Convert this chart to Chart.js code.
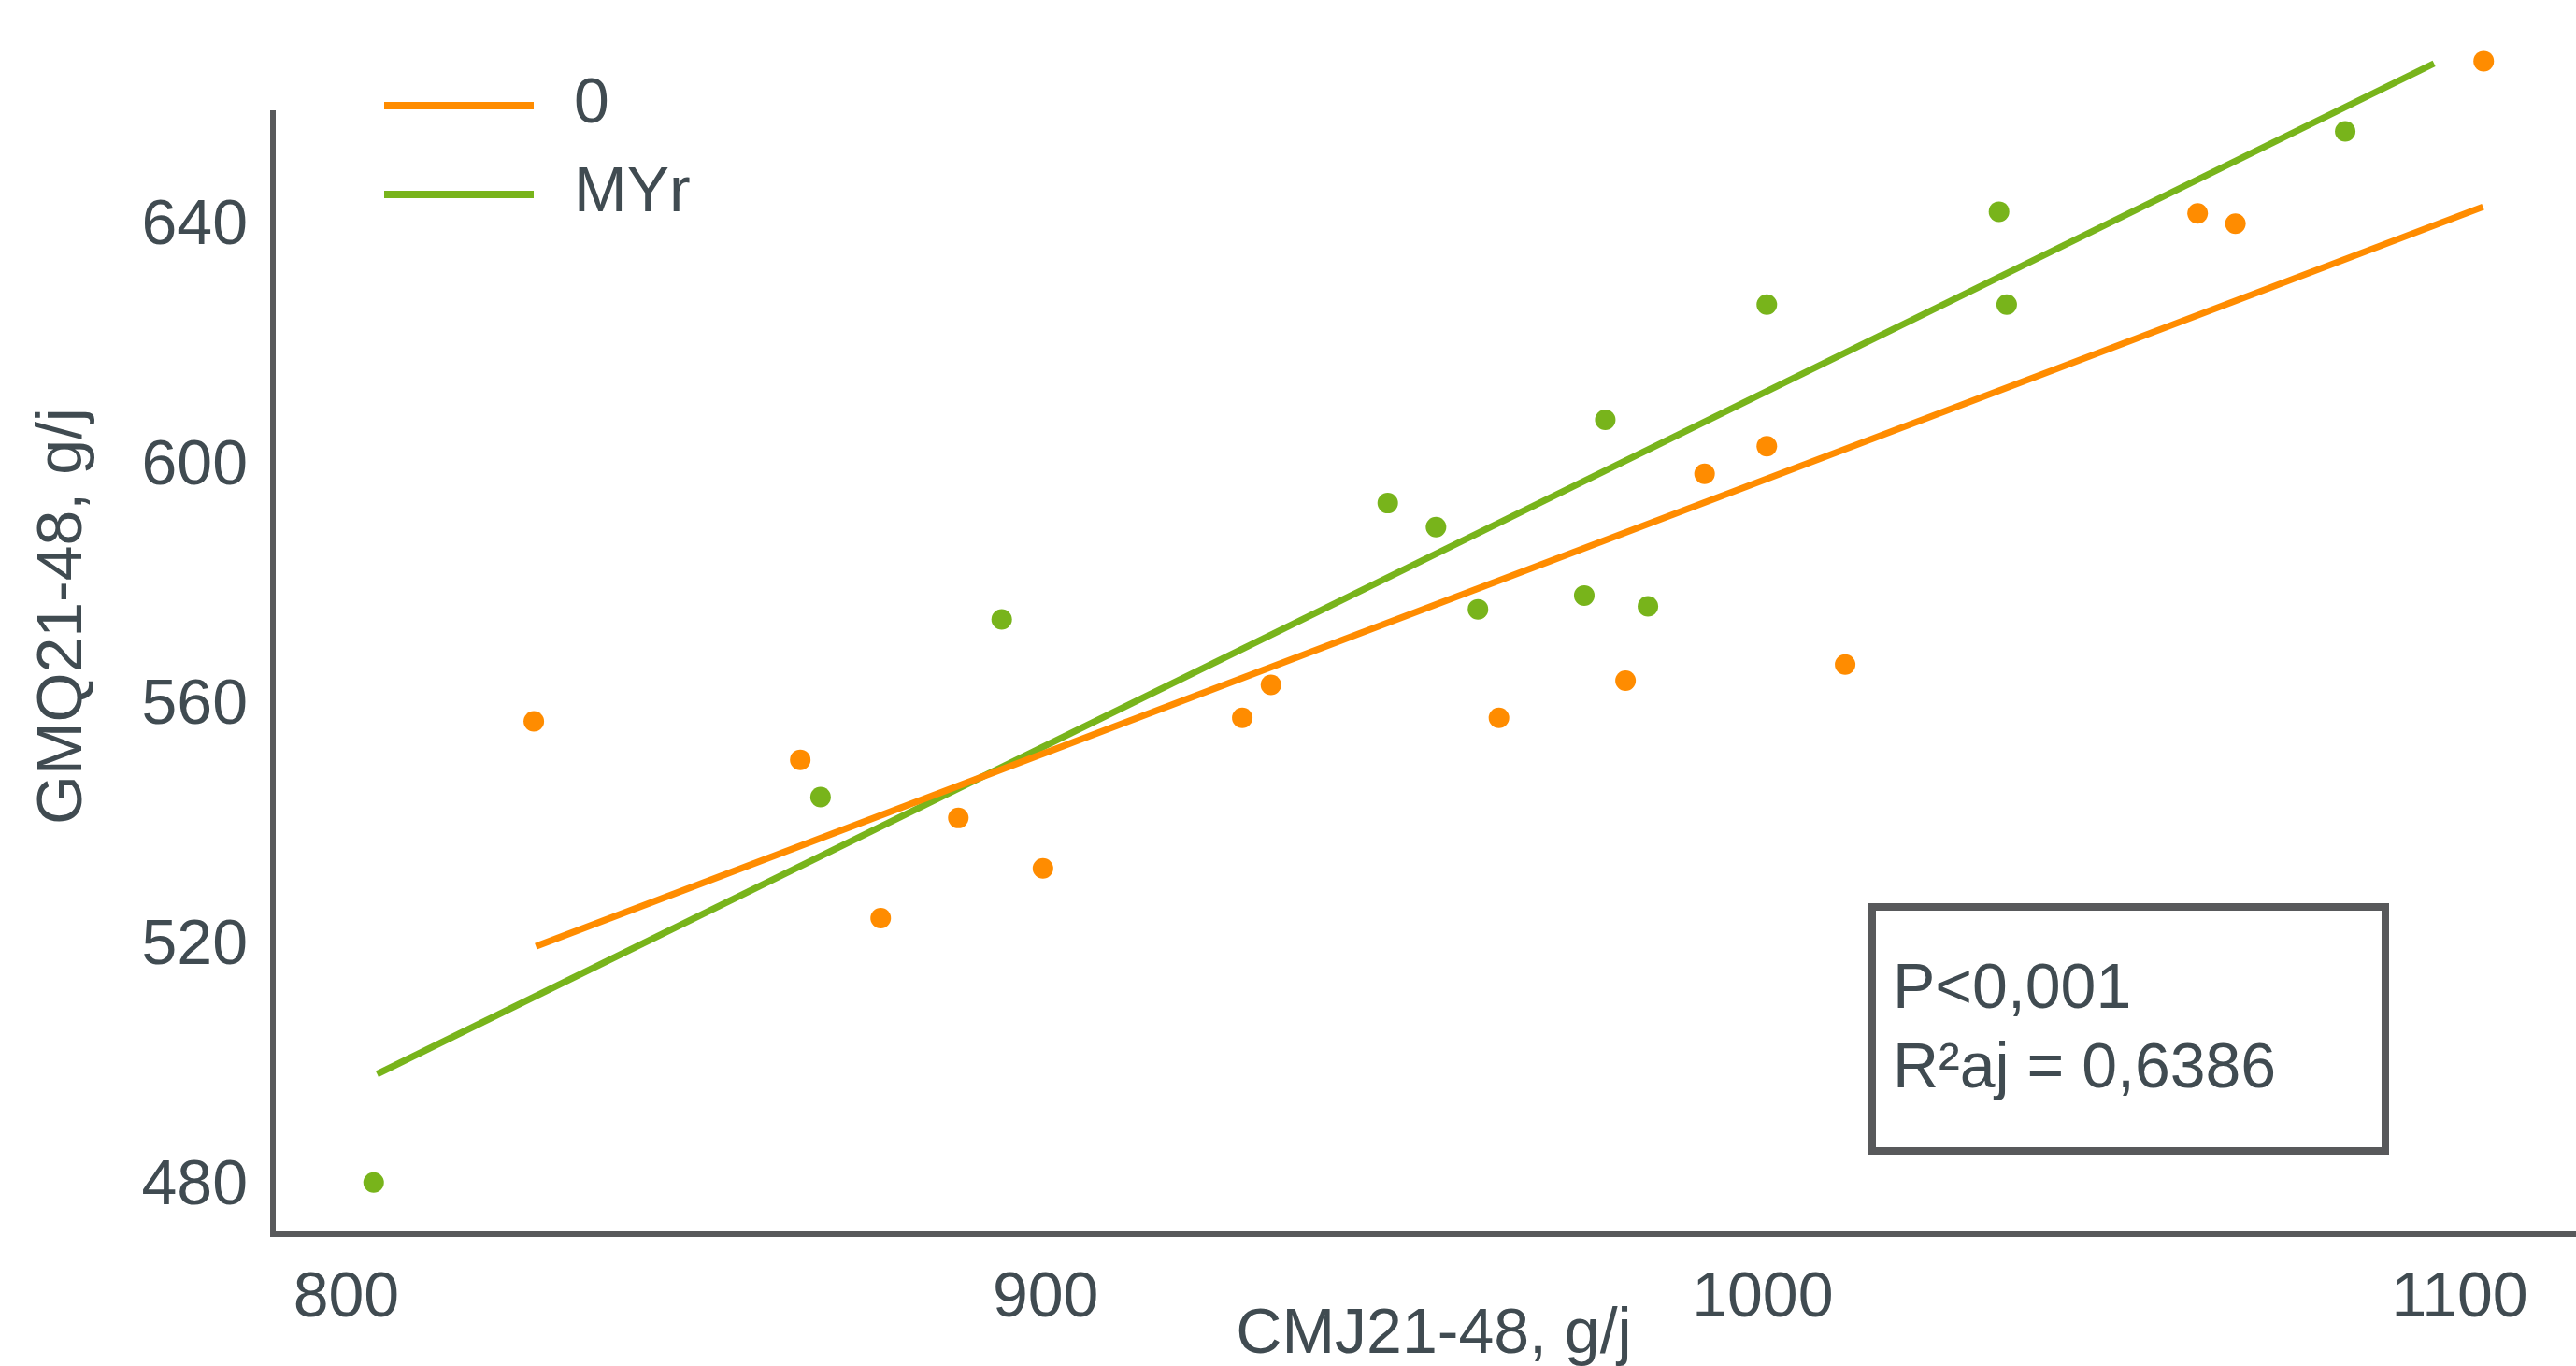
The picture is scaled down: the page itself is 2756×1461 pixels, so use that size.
<!DOCTYPE html>
<html>
<head>
<meta charset="utf-8">
<script src="https://cdn.jsdelivr.net/npm/chart.js@4.4.1/dist/chart.umd.min.js"></script>
<style>
  html, body { margin: 0; padding: 0; background: #fff; overflow: hidden; width: 2756px; height: 1461px; }
  #wrap { width: 2756px; height: 1461px; overflow: hidden; }
  #chart { display: block; }
</style>
</head>
<body>
<div id="wrap"><canvas id="chart" width="2756" height="1461"></canvas></div>
<script>
// groupes et valeurs
var groups = ['0', 'MYr'];
var cmj0 = [834.4, 872.5, 884.0, 895.1, 907.2, 935.7, 939.8, 972.4, 990.5, 1001.8, 1010.7, 1021.9, 1072.3, 1077.7, 1113.2];
var gmq0 = [556.9, 550.5, 524.1, 540.8, 532.4, 557.5, 563.0, 557.5, 563.7, 598.2, 602.8, 566.4, 641.6, 639.9, 667.0];
var cmjMYr = [811.5, 875.4, 901.3, 956.5, 963.4, 969.4, 984.6, 987.6, 993.7, 1010.7, 1043.9, 1045.0, 1093.4];
var gmqMYr = [480.0, 544.3, 573.9, 593.3, 589.3, 575.6, 577.9, 607.2, 576.1, 626.4, 641.9, 626.4, 655.3];
// droites de regression (extremites)
var fit0X = [834.7, 1113.1];
var fit0Y = [519.4, 642.7];
var fitMYrX = [812.0, 1106.1];
var fitMYrY = [498.1, 666.6];
// axes
var xTicks = [800, 900, 1000, 1100];
var yTicks = [480, 520, 560, 600, 640];
var xTitle = 'CMJ21-48, g/j';
var yTitle = 'GMQ21-48, g/j';
var statsLines = ['P<0,001', 'R²aj = 0,6386'];

var yAxisTop = 658.8; // haut du trait de l'axe y (des points depassent au-dessus)

var orange = '#ff8c00';
var green = '#78b41b';
var ink = '#404b51';
var axisGrey = '#58595b';
var fam = '"Liberation Sans", Arial, sans-serif';

function pts(xs, ys) {
  return xs.map(function (x, i) { return {x: x, y: ys[i]}; });
}

// trait de l'axe y, arrete a yAxisTop comme sur l'original
var yAxisLine = {
  id: 'yAxisLine',
  beforeDatasetsDraw: function (chart) {
    var ctx = chart.ctx;
    var y = chart.scales.y;
    var x = chart.chartArea.left;
    ctx.save();
    ctx.strokeStyle = axisGrey;
    ctx.lineWidth = 6;
    ctx.beginPath();
    ctx.moveTo(x, y.getPixelForValue(yAxisTop));
    ctx.lineTo(x, chart.chartArea.bottom + 3);
    ctx.stroke();
    ctx.restore();
  }
};

// legende, titres et encadre dessines par dessus le graphe
var overlay = {
  id: 'overlay',
  afterDraw: function (chart) {
    var ctx = chart.ctx;
    ctx.save();
    ctx.font = '68px ' + fam;
    ctx.fillStyle = ink;
    ctx.textBaseline = 'middle';

    var legendColors = [orange, green];
    var legendY = [113, 208];
    groups.forEach(function (g, i) {
      ctx.strokeStyle = legendColors[i];
      ctx.lineWidth = 8;
      ctx.beginPath();
      ctx.moveTo(411, legendY[i]);
      ctx.lineTo(571, legendY[i]);
      ctx.stroke();
      ctx.fillText(g, 614, legendY[i] - 1);
    });

    // titre axe y
    ctx.save();
    ctx.translate(68, 659);
    ctx.rotate(-Math.PI / 2);
    ctx.textAlign = 'center';
    ctx.fillText(yTitle, 0, 0);
    ctx.restore();

    // titre axe x
    ctx.textAlign = 'center';
    ctx.fillText(xTitle, 1534, 1428);

    // encadre stats
    ctx.strokeStyle = axisGrey;
    ctx.lineWidth = 8;
    ctx.strokeRect(2003, 970, 549, 261);
    ctx.textAlign = 'left';
    ctx.fillText(statsLines[0], 2025, 1059);
    ctx.fillText(statsLines[1], 2025, 1144);
    ctx.restore();
  }
};

var ctx = document.getElementById('chart').getContext('2d');
var chart = new Chart(ctx, {
  type: 'scatter',
  data: {
    datasets: [
      {
        label: groups[0] + ' fit',
        data: pts(fit0X, fit0Y),
        showLine: true,
        borderColor: orange,
        borderWidth: 7,
        pointRadius: 0,
        clip: false
      },
      {
        label: groups[1] + ' fit',
        data: pts(fitMYrX, fitMYrY),
        showLine: true,
        borderColor: green,
        borderWidth: 7,
        pointRadius: 0,
        clip: false
      },
      {
        label: groups[0],
        data: pts(cmj0, gmq0),
        backgroundColor: orange,
        borderWidth: 0,
        pointRadius: 11,
        clip: false
      },
      {
        label: groups[1],
        data: pts(cmjMYr, gmqMYr),
        backgroundColor: green,
        borderWidth: 0,
        pointRadius: 11,
        clip: false
      }
    ]
  },
  options: {
    responsive: false,
    devicePixelRatio: 1,
    animation: false,
    events: [],
    layout: { autoPadding: false, padding: { top: 40, left: 0, right: 0, bottom: 0 } },
    plugins: {
      legend: { display: false },
      tooltip: { enabled: false },
      title: { display: false }
    },
    scales: {
      x: {
        type: 'linear',
        min: 797.1,
        max: 1126.4,
        grid: { display: false, drawTicks: false },
        border: { display: true, color: axisGrey, width: 6 },
        afterBuildTicks: function (scale) {
          scale.ticks = xTicks.map(function (v) { return {value: v}; });
        },
        afterFit: function (scale) {
          scale.height = 141;
          scale.paddingLeft = 0;
          scale.paddingRight = 0;
        },
        ticks: {
          align: 'start',
          autoSkip: false,
          maxRotation: 0,
          minRotation: 0,
          padding: 35,
          color: ink,
          font: { family: fam, size: 68, lineHeight: 1 },
          callback: function (v) { return String(v); }
        }
      },
      y: {
        type: 'linear',
        min: 471.4,
        max: 670.96,
        grid: { display: false, drawTicks: false },
        border: { display: false },
        afterBuildTicks: function (scale) {
          scale.ticks = yTicks.map(function (v) { return {value: v}; });
        },
        afterFit: function (scale) {
          scale.width = 292;
          scale.paddingTop = 0;
          scale.paddingBottom = 0;
        },
        ticks: {
          autoSkip: false,
          padding: 27,
          labelOffset: 4,
          color: ink,
          font: { family: fam, size: 68, lineHeight: 1 },
          callback: function (v) { return String(v); }
        }
      }
    }
  },
  plugins: [yAxisLine, overlay]
});
</script>
</body>
</html>
